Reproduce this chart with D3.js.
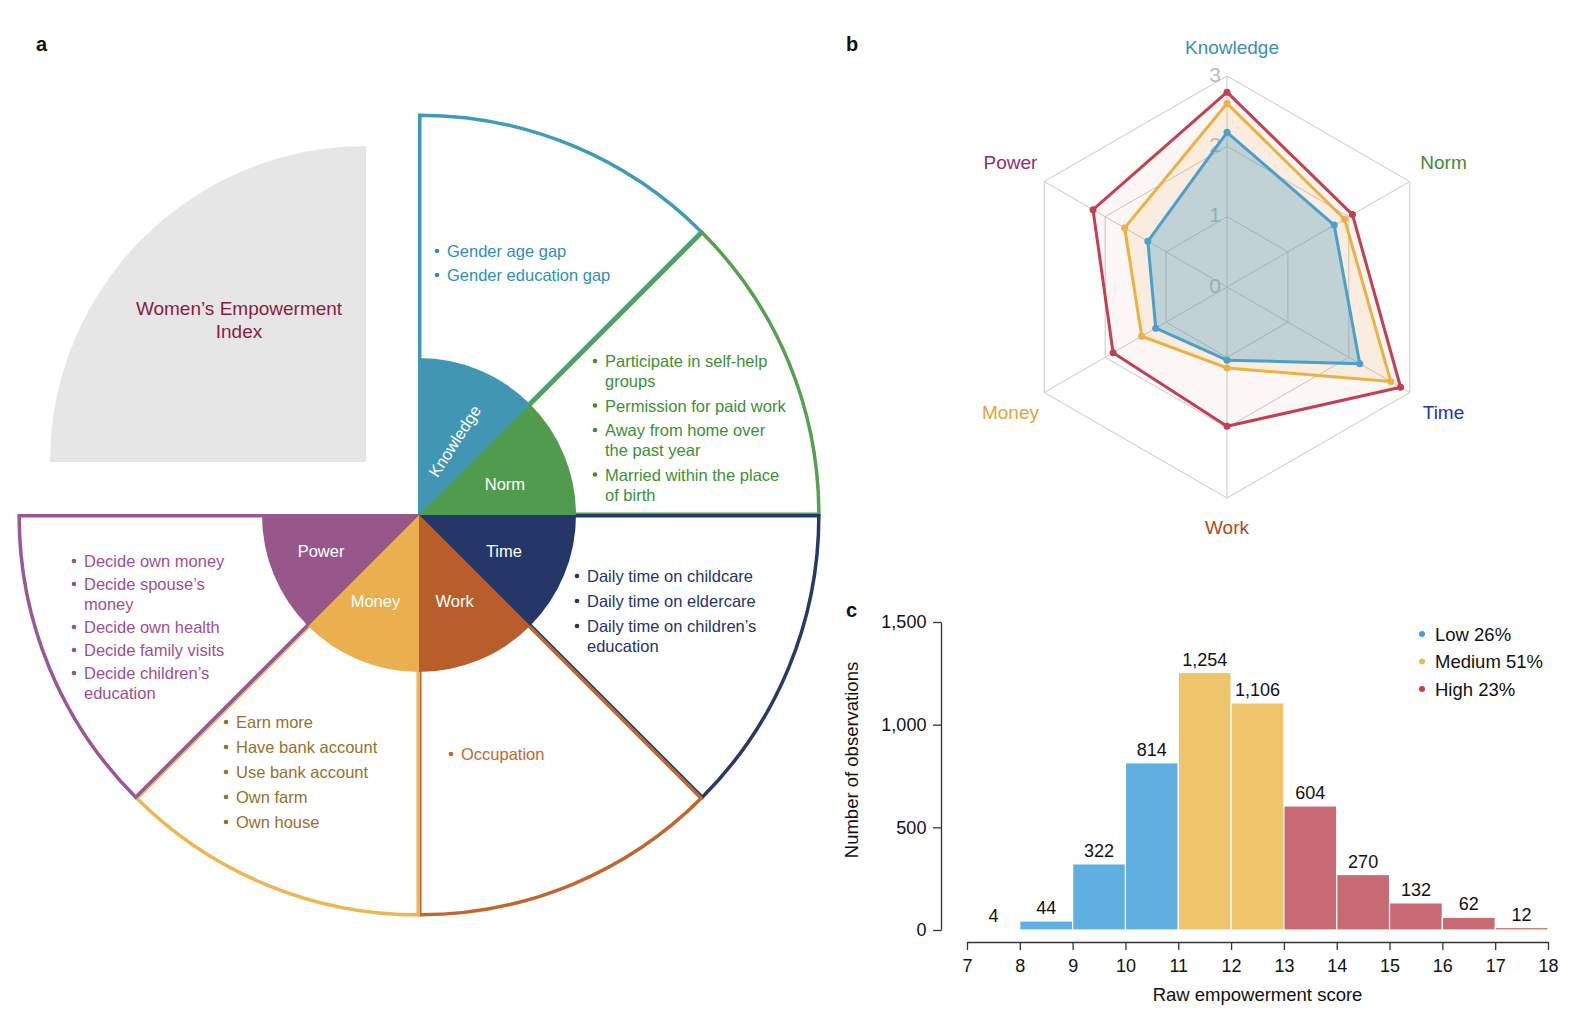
<!DOCTYPE html>
<html>
<head>
<meta charset="utf-8">
<script src="https://cdn.jsdelivr.net/npm/d3@7"></script>
<style>
  body { margin: 0; background: #fff; }
  svg { font-family: "Liberation Sans", Arial, Helvetica, sans-serif; }
</style>
</head>
<body>
<svg id="fig" width="1570" height="1016"></svg>
<script>
// ---- panel a: index structure ----
const dimensions = ["Knowledge", "Norm", "Time", "Work", "Money", "Power"];
const dimFill = ["#4197b3", "#519b4f", "#253668", "#b85e2a", "#eaaf4f", "#98578b"];
const dimLine = ["#3f9bb9", "#56a14f", "#263a6a", "#c1662c", "#eeb650", "#9b5694"];
const dimText = ["#2f8fb5", "#3c9136", "#23346a", "#c5682c", "#96712a", "#9e4f90"];
const indicators = [
  [["Gender age gap"], ["Gender education gap"]],
  [["Participate in self-help", "groups"], ["Permission for paid work"], ["Away from home over", "the past year"], ["Married within the place", "of birth"]],
  [["Daily time on childcare"], ["Daily time on eldercare"], ["Daily time on children’s", "education"]],
  [["Occupation"]],
  [["Earn more"], ["Have bank account"], ["Use bank account"], ["Own farm"], ["Own house"]],
  [["Decide own money"], ["Decide spouse’s", "money"], ["Decide own health"], ["Decide family visits"], ["Decide children’s", "education"]]
];
const indexTitle = ["Women’s Empowerment", "Index"];

// ---- panel b: radar ----
const radarAxes = ["Knowledge", "Norm", "Time", "Work", "Money", "Power"];
const radarAxisColor = ["#3a8fb4", "#3d8b34", "#2135a5", "#b5461d", "#e5a23b", "#8e2d72"];
const radarLevels = [0, 1, 2, 3];
const highScores = [2.77, 2.06, 2.85, 1.98, 1.87, 2.20];
const mediumScores = [2.61, 1.93, 2.69, 1.15, 1.40, 1.68];
const lowScores = [2.20, 1.76, 2.18, 1.04, 1.17, 1.30];

// ---- panel c: histogram ----
const scoreBins = [7, 8, 9, 10, 11, 12, 13, 14, 15, 16, 17];
const observations = [4, 44, 322, 814, 1254, 1106, 604, 270, 132, 62, 12];
const binGroup = ["Low", "Low", "Low", "Low", "Medium", "Medium", "High", "High", "High", "High", "High"];
const groups = ["Low", "Medium", "High"];
const groupShare = [26, 51, 23];
const xTicks = [7, 8, 9, 10, 11, 12, 13, 14, 15, 16, 17, 18];
const yTicks = [0, 500, 1000, 1500];

const svg = d3.select("#fig");

// panel letters
[["a", 36, 51], ["b", 846, 51], ["c", 846, 617]].forEach(p => {
  svg.append("text").attr("x", p[1]).attr("y", p[2]).text(p[0])
    .attr("font-weight", "bold").attr("font-size", 20).attr("fill", "#111");
});

// ===== panel a =====
const cx = 419, cy = 515, rIn = 157, rOut = 398;
const q = Math.PI / 4;
const pa = svg.append("g").attr("transform", `translate(${cx},${cy})`);

// index quarter (exploded up-left)
pa.append("path")
  .attr("transform", "translate(-53,-53)")
  .attr("d", d3.arc().innerRadius(0).outerRadius(316).startAngle(-2 * q).endAngle(0)())
  .attr("fill", "#e6e6e6");
const gt = pa.append("text").attr("text-anchor", "middle").attr("fill", "#8a1c3e").attr("font-size", 19);
indexTitle.forEach((t, i) => gt.append("tspan").attr("x", -180).attr("y", -200 + i * 23).text(t));

const outerArc = d3.arc().innerRadius(0).outerRadius(rOut);
const innerArc = d3.arc().innerRadius(0).outerRadius(rIn);
const labelArc = d3.arc().innerRadius(30).outerRadius(rIn - 1);
// small nudges for the wedge names
const labelNudge = [[0, 12], [0, 5], [-1, 0], [0, 0], [-8, 0], [-12, 0]];

// outlined outer sectors
dimensions.forEach((d, i) => {
  const s = i * q, e = (i + 1) * q, m = (s + e) / 2;
  const ex = 2 * Math.sin(m), ey = -2 * Math.cos(m);
  pa.append("path")
    .attr("transform", `translate(${ex},${ey})`)
    .attr("d", outerArc({startAngle: s, endAngle: e}))
    .attr("fill", "#fff")
    .attr("stroke", dimLine[i])
    .attr("stroke-width", 3.5);
});

// filled inner wedges
dimensions.forEach((d, i) => {
  const s = i * q, e = (i + 1) * q;
  pa.append("path")
    .attr("d", innerArc({startAngle: s, endAngle: e}))
    .attr("fill", dimFill[i]);
  const c = labelArc.centroid({startAngle: s, endAngle: e});
  const x = c[0] + labelNudge[i][0], y = c[1] + labelNudge[i][1];
  pa.append("text")
    .attr("text-anchor", "middle")
    .attr("dominant-baseline", "central")
    .attr("fill", "#fff")
    .attr("font-size", 16.5)
    .attr("transform", i === 0 ? `translate(${x},${y}) rotate(-57)` : `translate(${x},${y})`)
    .text(d);
});

// indicator lists: bullet x, first line y, item step (relative to centre)
const listLayout = [
  {x: 18, y: -264, step: 24},
  {x: 176, y: -154, step: 24.5},
  {x: 158, y: 61, step: 25},
  {x: 32, y: 239, step: 25},
  {x: -193, y: 207, step: 25},
  {x: -345, y: 46, step: 23}
];
indicators.forEach((items, i) => {
  const L = listLayout[i];
  let y = L.y;
  const g = pa.append("g").attr("fill", dimText[i]).attr("font-size", 16.5);
  items.forEach(lines => {
    g.append("circle").attr("cx", L.x).attr("cy", y).attr("r", 2.3);
    lines.forEach((ln, k) => {
      g.append("text").attr("x", L.x + 10).attr("y", y + k * 20)
        .attr("dominant-baseline", "central").text(ln);
    });
    y += (lines.length - 1) * 20 + L.step;
  });
});

// ===== panel b: radar =====
const rcx = 1227, rcy = 287;
const rr = d3.scaleLinear().domain([0, 3]).range([0, 211]);
const ang = i => i * Math.PI / 3;
const pt = (i, v) => [rcx + rr(v) * Math.sin(ang(i)), rcy - rr(v) * Math.cos(ang(i))];
const pb = svg.append("g");

radarLevels.filter(l => l > 0).forEach(l => {
  pb.append("path")
    .attr("d", d3.line()(radarAxes.map((a, i) => pt(i, l))) + "Z")
    .attr("fill", "none").attr("stroke", "#c9c9c9").attr("stroke-width", 1);
});
radarAxes.forEach((a, i) => {
  const p = pt(i, 3);
  pb.append("line").attr("x1", rcx).attr("y1", rcy).attr("x2", p[0]).attr("y2", p[1])
    .attr("stroke", "#c9c9c9").attr("stroke-width", 1);
});
radarLevels.forEach(l => {
  pb.append("text").attr("x", rcx - 6).attr("y", rcy - rr(l) - 2)
    .attr("text-anchor", "end").attr("dominant-baseline", "central")
    .attr("font-size", 21).attr("fill", "#bdbdbd").text(l);
});

const radarSeries = [
  {vals: highScores, line: "#c43f4f", fill: "#d0606c", op: 0.06},
  {vals: mediumScores, line: "#ebb241", fill: "#ebb041", op: 0.12},
  {vals: lowScores, line: "#4a9fcb", fill: "#3b95c0", op: 0.3}
];
radarSeries.forEach(s => {
  const pts = s.vals.map((v, i) => pt(i, v));
  pb.append("path").attr("d", d3.line()(pts) + "Z")
    .attr("fill", s.fill).attr("fill-opacity", s.op)
    .attr("stroke", s.line).attr("stroke-width", 3).attr("stroke-linejoin", "round");
  pb.selectAll(null).data(pts).enter().append("circle")
    .attr("cx", d => d[0]).attr("cy", d => d[1]).attr("r", 3.5).attr("fill", s.line);
});

radarAxes.forEach((a, i) => {
  const r = (i === 0 || i === 3) ? 240 : 250;
  const x = rcx + r * Math.sin(ang(i)), y = rcy - r * Math.cos(ang(i));
  pb.append("text").attr("x", x + (i === 0 ? 5 : 0)).attr("y", y)
    .attr("text-anchor", "middle").attr("dominant-baseline", "central")
    .attr("font-size", 19).attr("fill", radarAxisColor[i]).text(a);
});

// ===== panel c: histogram =====
const barColor = {Low: "#5fb0e0", Medium: "#efc56b", High: "#c86a74"};
const dotColor = {Low: "#3b9ee0", Medium: "#f0b848", High: "#c83c4c"};
const hx = d3.scaleLinear().domain([7, 18]).range([967, 1548]);
const hy = d3.scaleLinear().domain([0, 1500]).range([930, 622]);
const pc = svg.append("g");

pc.selectAll("rect.bar").data(scoreBins).enter().append("rect")
  .attr("class", "bar")
  .attr("x", d => hx(d))
  .attr("width", d => hx(d + 1) - hx(d))
  .attr("y", (d, i) => hy(observations[i]))
  .attr("height", (d, i) => hy(0) - hy(observations[i]))
  .attr("fill", (d, i) => barColor[binGroup[i]])
  .attr("stroke", "#fff").attr("stroke-width", 1.2);

pc.selectAll("text.val").data(scoreBins).enter().append("text")
  .attr("class", "val")
  .attr("x", d => hx(d + 0.5))
  .attr("y", (d, i) => hy(observations[i]) - 7)
  .attr("text-anchor", "middle").attr("font-size", 18).attr("fill", "#111")
  .text((d, i) => d3.format(",")(observations[i]));

const xa = pc.append("g").attr("transform", "translate(0,942)")
  .call(d3.axisBottom(hx).tickValues(xTicks).tickFormat(d3.format("d")).tickSize(8).tickSizeOuter(0));
const ya = pc.append("g").attr("transform", "translate(941,0)")
  .call(d3.axisLeft(hy).tickValues(yTicks).tickFormat(d3.format(",")).tickSize(8).tickSizeOuter(0));
[xa, ya].forEach(ax => {
  ax.selectAll("path, line").attr("stroke", "#333").attr("stroke-width", 1.3);
  ax.selectAll("text").attr("font-size", 18).attr("fill", "#111")
    .attr("font-family", "'Liberation Sans', Arial, sans-serif");
});
xa.selectAll("text").attr("dy", "1.05em");
ya.selectAll("text").attr("dx", "-0.2em");

pc.append("text").attr("x", hx(12.5)).attr("y", 1001).attr("text-anchor", "middle")
  .attr("font-size", 18.5).attr("fill", "#111").text("Raw empowerment score");
pc.append("text").attr("transform", "translate(858,760) rotate(-90)").attr("text-anchor", "middle")
  .attr("font-size", 18.5).attr("fill", "#111").text("Number of observations");

groups.forEach((g, i) => {
  const y = 634 + i * 27.5;
  pc.append("circle").attr("cx", 1422).attr("cy", y).attr("r", 3).attr("fill", dotColor[g]);
  pc.append("text").attr("x", 1435).attr("y", y).attr("dominant-baseline", "central")
    .attr("font-size", 18.5).attr("fill", "#111").text(`${g} ${groupShare[i]}%`);
});
</script>
</body>
</html>
